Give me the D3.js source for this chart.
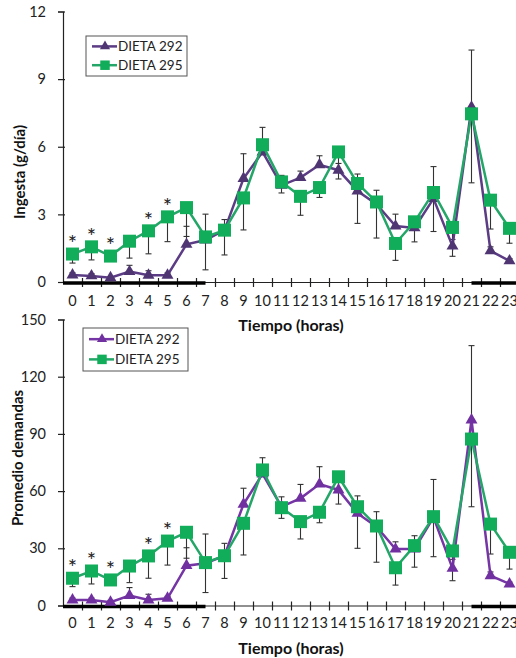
<!DOCTYPE html>
<html>
<head>
<meta charset="utf-8">
<script src="https://cdn.jsdelivr.net/npm/d3@7"></script>
<style>
  html, body { margin: 0; padding: 0; background: #fff; }
  svg { display: block; font-family: Lato, "Open Sans", "Liberation Sans", sans-serif; }
</style>
</head>
<body>
<svg id="chart" width="516" height="658"></svg>
<script>
// ---------- DATA ----------
const hours = [0,1,2,3,4,5,6,7,8,9,10,11,12,13,14,15,16,17,18,19,20,21,22,23];
const seriesNames = ["DIETA 292", "DIETA 295"];

const ingesta292 = [0.31,0.27,0.19,0.46,0.30,0.30,1.67,1.86,2.30,4.59,5.77,4.29,4.63,5.20,4.96,4.04,3.45,2.48,2.40,3.70,1.59,7.76,1.38,0.94];
const ingesta295 = [1.24,1.56,1.15,1.81,2.27,2.89,3.30,2.00,2.30,3.73,6.09,4.44,3.80,4.19,5.77,4.37,3.55,1.71,2.67,3.97,2.42,7.46,3.63,2.38];
const ingestaErr292 = [0.10,0.10,0.05,0.28,0.20,0.10,0.80,1.15,0.47,1.10,1.09,0.44,0.29,0.40,0.30,0.75,0.62,0.53,0.20,1.42,0.30,2.53,0.18,0.10];
const ingestaErr295 = [0.40,0.58,0.22,0.75,1.02,1.10,1.28,1.46,1.10,1.42,0.25,0.49,0.84,0.44,1.20,1.77,1.60,0.75,0.89,1.73,1.28,3.06,1.28,0.66];

const demandas292 = [2.9,2.9,1.7,5.2,2.9,3.8,20.9,22.1,26.1,53.1,69.0,51.8,56.2,63.7,60.6,48.3,41.3,29.6,29.6,46.2,19.5,97.3,15.6,11.3];
const demandas295 = [14.3,18.1,13.4,20.7,26.0,33.8,38.4,22.5,26.1,43.1,71.1,51.3,44.0,48.9,67.5,51.8,41.7,19.8,31.4,46.6,28.6,87.3,42.7,27.9];
const demandasErr292 = [1,1,1,4.2,3,1,9.4,15.4,6.5,8.4,8.5,5.2,7.3,9.1,4,9.2,7.9,3.8,7,19.9,4.7,39,2,1];
const demandasErr295 = [4.4,6.8,2.8,8.7,11.7,12.6,13.6,15.7,11.9,16.6,2,5.6,9.1,5.5,14.3,21.8,19,9.1,11.3,21,15.6,35.5,15.7,8.8];

const significantHours = [0,1,2,4,5];
const darkPeriods = [[0,7.5],[21.5,24]];   // in hour units

const ingestaTicks = [0,3,6,9,12];
const demandasTicks = [0,30,60,90,120,150];

// ---------- LAYOUT ----------
const svg = d3.select("#chart");
const plotLeft = 63, plotRight = 63 + 19*24;

const panels = [
  { v292: ingesta292, v295: ingesta295, e292: ingestaErr292, e295: ingestaErr295,
    domain: [0,12], ticks: ingestaTicks, yTop: 11.5, yBot: 282,
    ytitle: "Ingesta (g/día)", ytitleX: 20, ytitleY: 172, xtitleY: 325, tickPad: 14,
    purple: "#4f3673", purpleLine: "#5b3c85", green: "#12ad5a", greenLine: "#23a667",
    legend: { x: 86, y: 36, w: 101, h: 40 } },
  { v292: demandas292, v295: demandas295, e292: demandasErr292, e295: demandasErr295,
    domain: [0,150], ticks: demandasTicks, yTop: 319.5, yBot: 605.5,
    ytitle: "Promedio demandas", ytitleX: 18, ytitleY: 458, xtitleY: 648, tickPad: 12,
    purple: "#7030a0", purpleLine: "#7535a5", green: "#12ad5a", greenLine: "#23a667",
    legend: { x: 83, y: 328, w: 105, h: 43 } }
];

const xBand = d3.scaleBand().domain(hours).range([plotLeft, plotRight]).padding(0);
const xLin = d3.scaleLinear().domain([0,24]).range([plotLeft, plotRight]);
const cx = h => xBand(h) + xBand.bandwidth()/2;

const triSym = d3.symbol().type(d3.symbolTriangle);
const sqSym = d3.symbol().type(d3.symbolSquare);

panels.forEach(p => {
  const y = d3.scaleLinear().domain(p.domain).range([p.yBot, p.yTop]);
  const g = svg.append("g");

  // y axis
  const ya = g.append("g").attr("transform", `translate(${plotLeft},0)`)
    .call(d3.axisLeft(y).tickValues(p.ticks).tickSize(5).tickPadding(12));
  ya.select(".domain").attr("stroke", "#222").attr("stroke-width", 1.2);
  ya.selectAll(".tick line").attr("x1", 2).attr("stroke", "#222").attr("stroke-width", 1.2);
  ya.selectAll(".tick text").attr("font-size", 14.5).attr("fill", "#222")
    .attr("font-family", "Lato, 'Open Sans', sans-serif");

  // x axis: labels at category centers
  const xa = g.append("g").attr("transform", `translate(0,${p.yBot})`)
    .call(d3.axisBottom(xBand).tickSize(0).tickPadding(p.tickPad));
  xa.select(".domain").remove();
  xa.selectAll(".tick text").attr("font-size", 14.5).attr("fill", "#222")
    .attr("font-family", "Lato, 'Open Sans', sans-serif");
  // x axis line + boundary ticks
  const xt = g.append("g").attr("transform", `translate(0,${p.yBot})`)
    .call(d3.axisBottom(xLin).tickValues(d3.range(1,24)).tickFormat("").tickSize(5).tickSizeOuter(0));
  xt.select(".domain").attr("stroke", "#222").attr("stroke-width", 1.2);
  xt.selectAll(".tick line").attr("y1", -4).attr("stroke", "#222").attr("stroke-width", 1.2);

  // dark periods
  g.selectAll(".dark").data(darkPeriods).join("line")
    .attr("x1", d => xLin(d[0])).attr("x2", d => xLin(d[1]))
    .attr("y1", p.yBot + 1).attr("y2", p.yBot + 1)
    .attr("stroke", "#000").attr("stroke-width", 3.5);

  // titles
  g.append("text").attr("transform", `translate(${p.ytitleX},${p.ytitleY}) rotate(-90)`)
    .attr("text-anchor", "middle").attr("dy", "0.35em")
    .attr("font-size", 15).attr("font-weight", "bold").attr("fill", "#111")
    .text(p.ytitle);
  g.append("text").attr("x", (plotLeft + plotRight)/2).attr("y", p.xtitleY)
    .attr("text-anchor", "middle").attr("dy", "0.35em")
    .attr("font-size", 16).attr("font-weight", "bold").attr("fill", "#111")
    .text("Tiempo (horas)");

  // error bars: DIETA 292 upward, DIETA 295 downward
  const errs = [];
  hours.forEach((h,i) => {
    errs.push({ h, from: p.v292[i], to: p.v292[i] + p.e292[i] });
    errs.push({ h, from: p.v295[i], to: p.v295[i] - p.e295[i] });
  });
  const eg = g.append("g").attr("stroke", "#333").attr("stroke-width", 1.1);
  eg.selectAll(".ebar").data(errs).join("line")
    .attr("x1", d => cx(d.h)).attr("x2", d => cx(d.h))
    .attr("y1", d => y(d.from)).attr("y2", d => y(d.to));
  eg.selectAll(".ecap").data(errs).join("line")
    .attr("x1", d => cx(d.h) - 3).attr("x2", d => cx(d.h) + 3)
    .attr("y1", d => y(d.to)).attr("y2", d => y(d.to));

  const line = d3.line().x((d,i) => cx(hours[i])).y(d => y(d));

  // DIETA 292
  g.append("path").datum(p.v292).attr("d", line)
    .attr("fill", "none").attr("stroke", p.purpleLine).attr("stroke-width", 2.5);
  g.selectAll(".tri").data(p.v292).join("path")
    .attr("d", triSym.size(62)())
    .attr("transform", (d,i) => `translate(${cx(hours[i])},${y(d)})`)
    .attr("fill", p.purple);

  // DIETA 295
  g.append("path").datum(p.v295).attr("d", line)
    .attr("fill", "none").attr("stroke", p.greenLine).attr("stroke-width", 2.5);
  g.selectAll(".sq").data(p.v295).join("path")
    .attr("d", sqSym.size(169)())
    .attr("transform", (d,i) => `translate(${cx(hours[i])},${y(d)})`)
    .attr("fill", p.green);

  // significance asterisks
  g.selectAll(".ast").data(significantHours).join("text")
    .attr("x", h => cx(h)).attr("y", h => y(p.v295[hours.indexOf(h)]) - 3)
    .attr("text-anchor", "middle").attr("font-size", 22).attr("fill", "#222")
    .text("*");

  // legend
  const L = p.legend;
  const lg = g.append("g");
  lg.append("rect").attr("x", L.x).attr("y", L.y).attr("width", L.w).attr("height", L.h)
    .attr("fill", "#fff").attr("stroke", "#555").attr("stroke-width", 1);
  const rows = [
    { name: seriesNames[0], color: p.purple, lc: p.purpleLine, sym: triSym.size(45)() },
    { name: seriesNames[1], color: p.green, lc: p.greenLine, sym: sqSym.size(90)() }
  ];
  rows.forEach((r, k) => {
    const ry = L.y + L.h * (k === 0 ? 0.26 : 0.73);
    lg.append("line").attr("x1", L.x + 6).attr("x2", L.x + 31).attr("y1", ry).attr("y2", ry)
      .attr("stroke", r.lc).attr("stroke-width", 2.5);
    lg.append("path").attr("d", r.sym).attr("transform", `translate(${L.x + 19},${ry})`)
      .attr("fill", r.color);
    lg.append("text").attr("x", L.x + 32).attr("y", ry).attr("dy", "0.35em")
      .attr("font-size", 13.5).attr("fill", "#222").text(r.name);
  });
});
</script>
</body>
</html>
